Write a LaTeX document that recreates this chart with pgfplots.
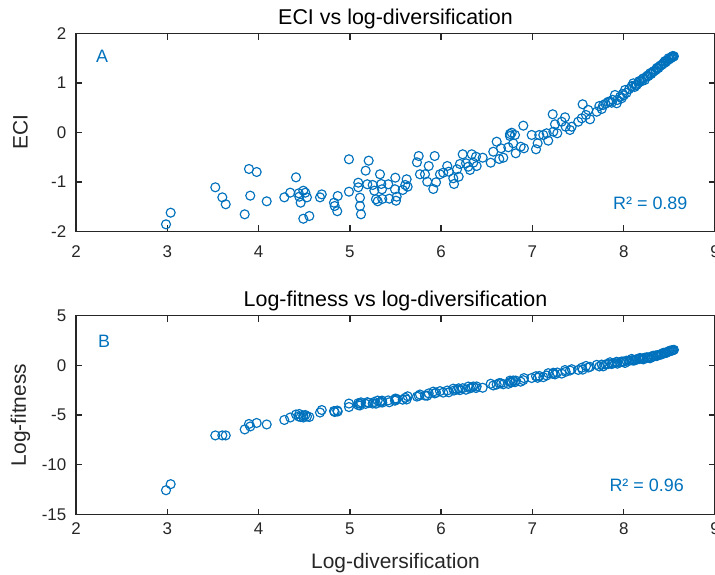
\documentclass[border=0pt]{standalone}
\usepackage{pgfplots}
\pgfplotsset{compat=1.18}
\usepackage{pgfplotstable}
\usepackage{fontspec}
\setmainfont{Liberation Sans}
\definecolor{mblue}{RGB}{0,114,189}
\definecolor{mgray}{RGB}{38,38,38}

% x = log-diversification, eci = ECI, fit = log-fitness
\pgfplotstableread{
x eci fit
2.986 -1.855 -12.56
3.037 -1.62 -11.95
3.526 -1.107 -7.05
3.603 -1.31 -7.05
3.640 -1.45 -7.05
3.848 -1.653 -6.45
3.895 -0.737 -5.9
3.909 -1.276 -6.15
3.979 -0.798 -5.8
4.089 -1.39 -5.95
4.282 -1.31 -5.5
4.347 -1.215 -5.25
4.410 -0.906 -4.95
4.440 -1.228 -5.15
4.446 -1.297 -4.9
4.461 -1.418 -5.2
4.490 -1.176 -5.05
4.490 -1.742 -5.25
4.512 -1.216 -5.0
4.530 -1.31 -5.15
4.556 -1.687 -5.2
4.673 -1.31 -4.75
4.692 -1.25 -4.5
4.826 -1.418 -4.6
4.834 -1.485 -4.7
4.862 -1.59 -4.55
4.867 -1.283 -4.65
4.990 -0.541 -3.85
4.990 -1.196 -4.2
5.092 -1.014 -3.81
5.092 -1.107 -4.01
5.111 -1.317 -3.84
5.111 -1.485 -4.04
5.122 -1.652 -3.73
5.173 -0.771 -3.88
5.206 -0.569 -3.79
5.191 -1.046 -3.71
5.250 -1.06 -3.85
5.268 -1.175 -3.68
5.286 -1.349 -3.86
5.305 -1.39 -3.55
5.330 -0.844 -3.72
5.344 -1.04 -3.66
5.352 -1.147 -3.55
5.355 -1.343 -3.75
5.421 -1.046 -3.53
5.432 -1.337 -3.72
5.498 -0.913 -3.35
5.494 -1.147 -3.56
5.505 -1.378 -3.49
5.513 -1.297 -3.38
5.579 -1.161 -3.46
5.607 -1.06 -3.27
5.622 -0.945 -3.44
5.633 -1.095 -3.12
5.735 -0.602 -3.15
5.754 -0.475 -3.07
5.768 -0.844 -2.94
5.823 -0.844 -3.05
5.864 -0.677 -2.83
5.848 -0.994 -3.06
5.914 -1.141 -2.65
5.929 -0.475 -2.83
5.944 -1.006 -2.76
5.987 -0.844 -2.60
6.023 -0.812 -2.75
6.067 -0.677 -2.54
6.083 -0.792 -2.72
6.133 -0.925 -2.35
6.141 -1.04 -2.54
6.174 -0.743 -2.44
6.192 -0.893 -2.32
6.206 -0.636 -2.50
6.236 -0.44 -2.31
6.272 -0.622 -2.46
6.297 -0.691 -2.14
6.316 -0.757 -2.32
6.335 -0.44 -2.24
6.352 -0.61 -2.13
6.382 -0.489 -2.29
6.389 -0.677 -2.13
6.455 -0.509 -2.26
6.543 -0.61 -1.86
6.571 -0.388 -2.03
6.608 -0.186 -1.94
6.637 -0.535 -1.79
6.681 -0.509 -1.91
6.656 -0.319 -1.81
6.736 -0.299 -1.87
6.754 -0.03 -1.54
6.773 -0.004 -1.71
6.754 -0.071 -1.69
6.790 -0.218 -1.53
6.809 -0.05 -1.70
6.817 -0.42 -1.54
6.871 -0.287 -1.65
6.907 -0.319 -1.29
6.900 0.138 -1.50
6.992 -0.05 -1.28
7.039 -0.339 -1.10
7.057 -0.218 -1.26
7.075 -0.05 -1.08
7.119 -0.05 -1.20
7.173 -0.165 -0.80
7.156 -0.016 -1.03
7.222 0.368 -0.86
7.229 0.016 -0.75
7.247 0.166 -0.92
7.272 -0.016 -0.73
7.320 0.218 -0.84
7.357 0.307 -0.48
7.364 0.117 -0.66
7.411 0.051 -0.53
7.430 0.117 -0.40
7.502 0.218 -0.47
7.540 0.287 -0.25
7.550 0.57 -0.44
7.587 0.354 -0.07
7.612 0.455 -0.23
7.631 0.267 -0.16
7.704 0.420 0.04
7.733 0.535 -0.12
7.759 0.475 0.07
7.776 0.556 -0.11
7.800 0.58 0.08
7.830 0.62 0.12
7.850 0.622 0.30
7.868 0.602 0.12
7.880 0.66 0.19
7.904 0.758 0.22
7.923 0.59 0.35
7.930 0.657 0.16
7.960 0.72 0.30
7.977 0.691 0.38
7.990 0.78 0.35
8.000 0.75 0.36
8.014 0.859 0.23
8.030 0.80 0.46
8.060 0.88 0.45
8.087 0.925 0.64
8.090 0.94 0.50
8.105 0.994 0.47
8.120 0.92 0.49
8.130 0.96 0.56
8.142 0.96 0.58
8.160 1.00 0.66
8.170 1.04 0.62
8.178 1.026 0.73
8.200 1.04 0.67
8.210 1.08 0.68
8.215 1.095 0.59
8.230 1.06 0.76
8.252 1.127 0.80
8.260 1.15 0.76
8.270 1.14 0.77
8.288 1.196 0.70
8.300 1.18 0.87
8.310 1.21 0.84
8.324 1.228 0.96
8.330 1.24 0.88
8.350 1.26 0.99
8.361 1.297 0.92
8.370 1.31 1.00
8.380 1.30 1.03
8.397 1.343 1.08
8.410 1.36 1.07
8.420 1.37 1.14
8.434 1.398 1.25
8.440 1.40 1.21
8.450 1.44 1.25
8.460 1.42 1.23
8.470 1.451 1.26
8.480 1.46 1.34
8.490 1.50 1.37
8.500 1.48 1.43
8.507 1.499 1.47
8.520 1.51 1.46
8.530 1.52 1.49
8.536 1.545 1.51
8.540 1.53 1.52
8.550 1.54 1.55
}\countries

\pgfplotsset{
  matlab/.style={
    scale only axis,
    width=639bp,
    xmin=2, xmax=9,
    xtick={2,...,9},
    tick align=inside,
    major tick length=6bp,
    axis line style={mgray, line width=1.3bp},
    every tick/.style={mgray, line width=1.3bp},
    /pgf/number format/assume math mode=true,
    ticklabel style={font=\fontsize{17}{19}\selectfont, text=mgray, inner sep=0pt},
    yticklabel style={anchor=east, xshift=-9.5bp},
    label style={font=\fontsize{21}{25}\selectfont, text=mgray, inner sep=0pt},
    ylabel style={at={(axis description cs:-0.0868,0.5)}, anchor=center},
    xlabel style={at={(axis description cs:0.5,0)}, anchor=base, yshift=-53.5bp},
    title style={font=\fontsize{21.5}{25}\selectfont, black, inner sep=0pt,
      at={(axis description cs:0.5,1)}, anchor=base, yshift=3.5bp},
    clip=false,
  },
  pts/.style={only marks, mark=o, mblue, mark size=4.5bp,
    mark options={line width=1.15bp}},
}
\tikzset{note/.style={mblue, font=\fontsize{18}{20}\selectfont, inner sep=0pt}}

\begin{document}
\begin{tikzpicture}
  \begin{axis}[matlab,
      name=top,
      at={(76bp,-33.5bp)}, anchor=north west,
      height=198bp,
      ymin=-2, ymax=2, ytick={-2,...,2},
      xticklabel style={anchor=base, yshift=-26bp},
      title={ECI vs log-diversification},
      ylabel={ECI},
    ]
    \addplot[pts] table[x=x, y=eci] {\countries};
    \node[note, anchor=center] at (axis cs:2.285,1.545) {A};
    \node[note, anchor=east] at (axis cs:8.70,-1.44) {R² = 0.89};
  \end{axis}
  \begin{axis}[matlab,
      name=bottom,
      at={(76bp,-315.5bp)}, anchor=north west,
      height=199bp,
      ymin=-15, ymax=5, ytick={-15,-10,...,5},
      xticklabel style={anchor=base, yshift=-19.5bp},
      title={Log-fitness vs log-diversification},
      ylabel={Log-fitness},
      xlabel={Log-diversification},
    ]
    \addplot[pts] table[x=x, y=fit] {\countries};
    \node[note, anchor=center] at (axis cs:2.307,2.43) {B};
    \node[note, anchor=east] at (axis cs:8.66,-12.05) {R² = 0.96};
  \end{axis}
  \pgfresetboundingbox
  \useasboundingbox (0,0) rectangle (715bp,-575bp);
\end{tikzpicture}
\end{document}
